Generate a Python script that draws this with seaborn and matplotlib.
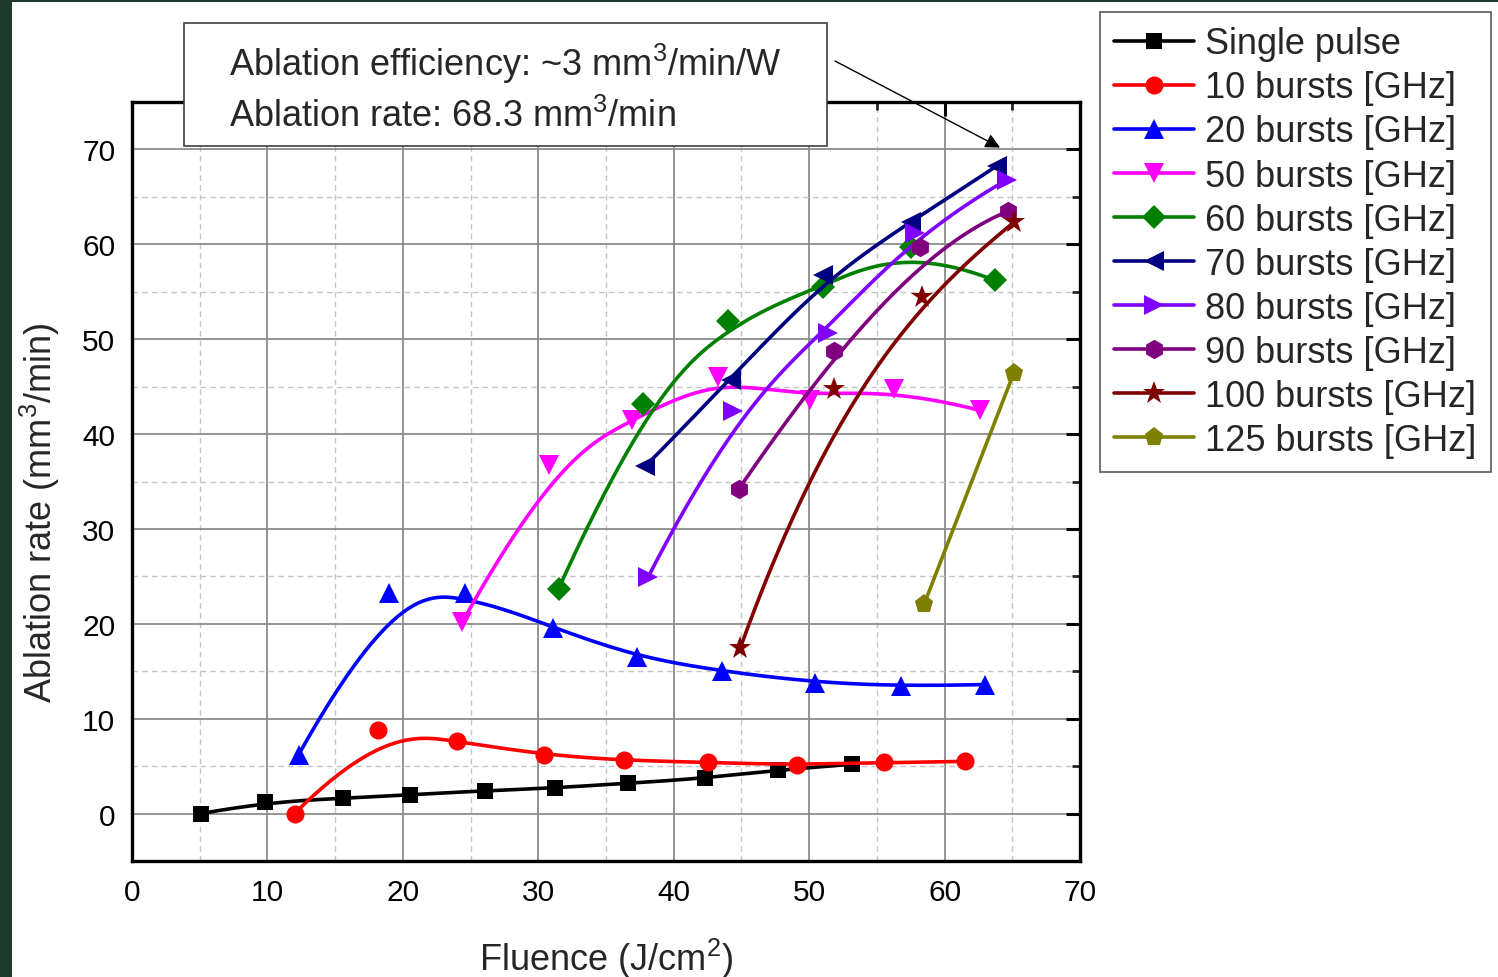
import numpy as np
import pandas as pd
import matplotlib
matplotlib.use("Agg")
import matplotlib.pyplot as plt
from matplotlib.lines import Line2D
from matplotlib.patches import Rectangle
from matplotlib.ticker import MultipleLocator
import seaborn as sns

# ---------------- data ----------------
series = ['Single pulse', '10 bursts [GHz]', '20 bursts [GHz]', '50 bursts [GHz]',
          '60 bursts [GHz]', '70 bursts [GHz]', '80 bursts [GHz]', '90 bursts [GHz]',
          '100 bursts [GHz]', '125 bursts [GHz]']

single_x = [5.1, 9.8, 15.6, 20.5, 26.1, 31.2, 36.6, 42.3, 47.7, 53.2]
single_y = [0.0, 1.2, 1.6, 2.0, 2.4, 2.7, 3.2, 3.7, 4.6, 5.2]
b10_x = [12.0, 18.2, 24.0, 30.4, 36.3, 42.5, 49.1, 55.5, 61.5]
b10_y = [0.0, 8.8, 7.6, 6.2, 5.6, 5.4, 5.1, 5.4, 5.5]
b20_x = [12.3, 19.0, 24.6, 31.1, 37.3, 43.6, 50.4, 56.8, 63.0]
b20_y = [6.2, 23.3, 23.2, 19.6, 16.5, 15.0, 13.8, 13.4, 13.6]
b50_x = [24.4, 30.8, 36.9, 43.3, 50.1, 56.3, 62.6]
b50_y = [20.2, 36.7, 41.5, 46.0, 43.6, 44.8, 42.5]
b60_x = [31.5, 37.7, 44.0, 51.0, 57.5, 63.7]
b60_y = [23.7, 43.2, 51.9, 55.5, 59.7, 56.2]
b70_x = [37.9, 44.2, 51.0, 57.5, 63.9]
b70_y = [36.6, 45.7, 56.8, 62.3, 68.3]
b80_x = [38.1, 44.4, 51.4, 57.8, 64.6]
b80_y = [24.9, 42.4, 50.6, 61.2, 66.8]
b90_x = [44.8, 51.8, 58.2, 64.7]
b90_y = [34.2, 48.8, 59.7, 63.5]
b100_x = [44.9, 51.8, 58.3, 65.1]
b100_y = [17.4, 44.7, 54.4, 62.3]
b125_x = [58.5, 65.1]
b125_y = [22.1, 46.4]

all_x = [single_x, b10_x, b20_x, b50_x, b60_x, b70_x, b80_x, b90_x, b100_x, b125_x]
all_y = [single_y, b10_y, b20_y, b50_y, b60_y, b70_y, b80_y, b90_y, b100_y, b125_y]

colors = ['#000000', '#ff0000', '#0000ff', '#ff00ff', '#008000',
          '#000080', '#8000ff', '#800080', '#800000', '#808000']
markers = ['s', 'o', '^', 'v', 'D', '<', '>', 'h', '*', 'p']
msizes = [12, 13, 14, 14, 12, 14, 14, 14, 17, 14]


def bspline(xs, ys, num=300):
    """clamped B-spline (like Origin's B-spline connect)"""
    P = np.column_stack([xs, ys]).astype(float)
    n = len(P)
    k = min(3, n - 1)
    inner = [i / (n - k) for i in range(1, n - k)]
    knots = np.array([0.0] * (k + 1) + inner + [1.0] * (k + 1))
    t = np.linspace(0, 1, num)
    t[-1] -= 1e-9
    N = np.zeros((num, len(knots) - 1))
    for i in range(len(knots) - 1):
        N[:, i] = (t >= knots[i]) & (t < knots[i + 1])
    for d in range(1, k + 1):
        Nn = np.zeros((num, len(knots) - 1 - d))
        for i in range(len(knots) - 1 - d):
            a = knots[i + d] - knots[i]
            b = knots[i + d + 1] - knots[i + 1]
            left = (t - knots[i]) / a * N[:, i] if a > 0 else 0
            right = (knots[i + d + 1] - t) / b * N[:, i + 1] if b > 0 else 0
            Nn[:, i] = left + right
        N = Nn
    C = N @ P
    return C[:, 0], C[:, 1]


pts = pd.concat([pd.DataFrame({'x': x, 'y': y, 'series': s})
                 for s, x, y in zip(series, all_x, all_y)], ignore_index=True)
curves = []
for s, x, y in zip(series, all_x, all_y):
    cx, cy = bspline(x, y)
    curves.append(pd.DataFrame({'x': cx, 'y': cy, 'series': s}))
curves = pd.concat(curves, ignore_index=True)

# ---------------- style ----------------
sns.set_theme(style='white')
plt.rcParams['font.family'] = ['Liberation Sans', 'DejaVu Sans']
plt.rcParams['mathtext.fontset'] = 'custom'
plt.rcParams['mathtext.rm'] = 'Liberation Sans'
plt.rcParams['mathtext.default'] = 'regular'

fig = plt.figure(figsize=(14.98, 9.78), dpi=100)
fig.patch.set_facecolor('#1d3a2d')
fig.patches.append(Rectangle((12 / 1498, 0), 1, 1 - 3 / 978, transform=fig.transFigure,
                             facecolor='white', edgecolor='none', zorder=-10))
ax = fig.add_axes([132 / 1498, 1 - 862 / 978, (1080 - 132) / 1498, (862 - 103) / 978])

for i, s in enumerate(series):
    sub = curves[curves['series'] == s]
    sns.lineplot(data=sub, x='x', y='y', sort=False, estimator=None, color=colors[i],
                 linewidth=2.6, ax=ax, legend=False, zorder=3 + i)
    ps = pts[pts['series'] == s]
    ax.plot(ps['x'], ps['y'], linestyle='none', marker=markers[i], markersize=msizes[i],
            color=colors[i], markeredgewidth=0, zorder=3 + i)

ax.set_xlim(0, 70)
ax.set_ylim(-5, 75)
ax.xaxis.set_major_locator(MultipleLocator(10))
ax.xaxis.set_minor_locator(MultipleLocator(5))
ax.yaxis.set_major_locator(MultipleLocator(10))
ax.yaxis.set_minor_locator(MultipleLocator(5))
ax.set_yticks([0, 10, 20, 30, 40, 50, 60, 70])
ax.grid(which='major', color='#8c8c8c', linewidth=1.3, linestyle='-')
ax.grid(which='minor', color='#c4c4c4', linewidth=1.0, linestyle=(0, (4, 3)))
ax.set_axisbelow(True)
ax.tick_params(which='major', direction='in', length=10, width=2.2, top=True, right=True,
               labelsize=21.5, pad=12, colors='black')
ax.tick_params(which='minor', direction='in', length=6, width=2.0, top=True, right=True)
for sp in ax.spines.values():
    sp.set_linewidth(2.4)
    sp.set_color('black')

ax.set_xlabel('Fluence (J/cm$^2$)', fontsize=26)
ax.set_ylabel('Ablation rate (mm$^3$/min)', fontsize=26)
ax.xaxis.set_label_coords(0.5, -0.098)
ax.yaxis.set_label_coords(-0.074, 0.46)

# annotation box
fig.patches.append(Rectangle((184 / 1498, 1 - 147 / 978), (827 - 184) / 1498, (147 - 24) / 978,
                             transform=fig.transFigure, facecolor='white',
                             edgecolor='#404040', linewidth=1.2, zorder=5))
fig.text(229 / 1498, 1 - 64 / 978, 'Ablation efficiency: ~3 mm$^3$/min/W', fontsize=26,
         va='center', ha='left', zorder=6)
fig.text(229 / 1498, 1 - 117 / 978, 'Ablation rate: 68.3 mm$^3$/min', fontsize=26,
         va='center', ha='left', zorder=6)
ax.annotate('', xy=(b70_x[-1] + 0.2, 70.2), xycoords='data',
            xytext=(835 / 1498, 1 - 62 / 978), textcoords='figure fraction',
            arrowprops=dict(arrowstyle='-|>', color='black', lw=1.0, mutation_scale=22,
                            shrinkA=0, shrinkB=0),
            annotation_clip=False, zorder=20)

handles = [Line2D([], [], color=c, marker=m, markersize=ms, markeredgewidth=0, linewidth=2.6)
           for c, m, ms in zip(colors, markers, msizes)]
leg = fig.legend(handles, series, loc='upper left', bbox_to_anchor=(1100 / 1498, 1 - 13 / 978),
                 fontsize=26, frameon=True, fancybox=False, edgecolor='#303030',
                 handlelength=2.2, handletextpad=0.3, labelspacing=0.25, borderpad=0.4,
                 borderaxespad=0)
leg.get_frame().set_linewidth(1.2)

fig.savefig('out.png', dpi=100, facecolor=fig.get_facecolor())
